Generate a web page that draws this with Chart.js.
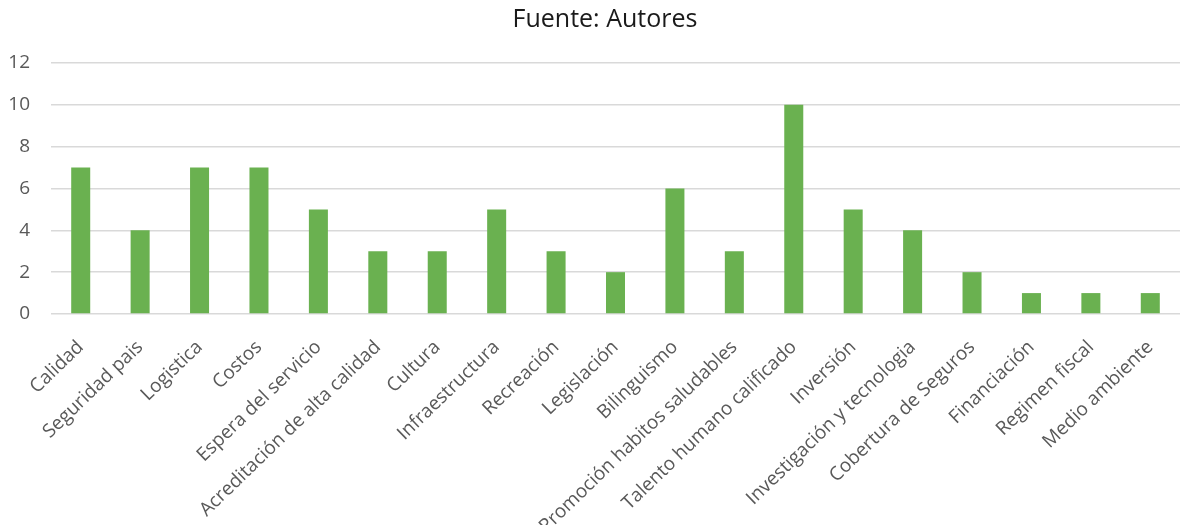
<!DOCTYPE html>
<html>
<head>
<meta charset="utf-8">
<script src="https://cdn.jsdelivr.net/npm/chart.js@4"></script>
<style>
  html, body { margin: 0; padding: 0; background: #fff; }
  #wrap { width: 1180px; height: 525px; }
</style>
</head>
<body>
<div id="wrap"><canvas id="chart"></canvas></div>
<script>
var titleText = 'Fuente: Autores';
var categories = ['Calidad', 'Seguridad pais', 'Logistica', 'Costos', 'Espera del servicio',
  'Acreditación de alta calidad', 'Cultura', 'Infraestructura', 'Recreación', 'Legislación',
  'Bilinguismo', 'Promoción habitos saludables', 'Talento humano calificado', 'Inversión',
  'Investigación y tecnologia', 'Cobertura de Seguros', 'Financiación', 'Regimen fiscal', 'Medio ambiente'];
var values = [7, 4, 7, 7, 5, 3, 3, 5, 3, 2, 6, 3, 10, 5, 4, 2, 1, 1, 1];
var yTicks = [0, 2, 4, 6, 8, 10, 12];

// title is drawn slightly off-centre in the original, so place it by hand
var titlePlugin = {
  id: 'sourceTitle',
  afterDraw: function (chart) {
    var c = chart.ctx;
    c.save();
    c.font = '25px "Open Sans"';
    c.fillStyle = '#1a1a1a';
    c.textAlign = 'center';
    c.textBaseline = 'alphabetic';
    c.fillText(titleText, 605, 27);
    c.restore();
  }
};

var ctx = document.getElementById('chart').getContext('2d');
var myChart = new Chart(ctx, {
  type: 'bar',
  data: {
    labels: categories,
    datasets: [{
      data: values,
      backgroundColor: '#6ab150',
      barPercentage: 0.64,
      categoryPercentage: 0.5
    }]
  },
  plugins: [titlePlugin],
  options: {
    responsive: true,
    maintainAspectRatio: false,
    animation: false,
    layout: { padding: { left: 0, right: -4, top: 63, bottom: 0 } },
    plugins: {
      legend: { display: false },
      tooltip: { enabled: false },
      title: { display: false }
    },
    scales: {
      y: {
        min: 0,
        max: 12,
        afterBuildTicks: function (axis) {
          axis.ticks = yTicks.map(function (v) { return { value: v }; });
        },
        afterFit: function (scale) { scale.width = 51; },
        border: { display: false },
        grid: { color: '#d9d9d9', lineWidth: 1.5, drawTicks: false },
        ticks: {
          color: '#595959',
          padding: 21,
          font: { family: 'Open Sans', size: 19 }
        }
      },
      x: {
        afterFit: function (scale) {
          scale.paddingLeft = 0;
          scale.paddingRight = 0;
          scale.height = 211;
        },
        border: { display: false },
        grid: { display: false },
        ticks: {
          color: '#595959',
          minRotation: 44,
          maxRotation: 44,
          autoSkip: false,
          padding: 14,
          font: { family: 'Open Sans', size: 19 }
        }
      }
    }
  }
});
</script>
</body>
</html>
